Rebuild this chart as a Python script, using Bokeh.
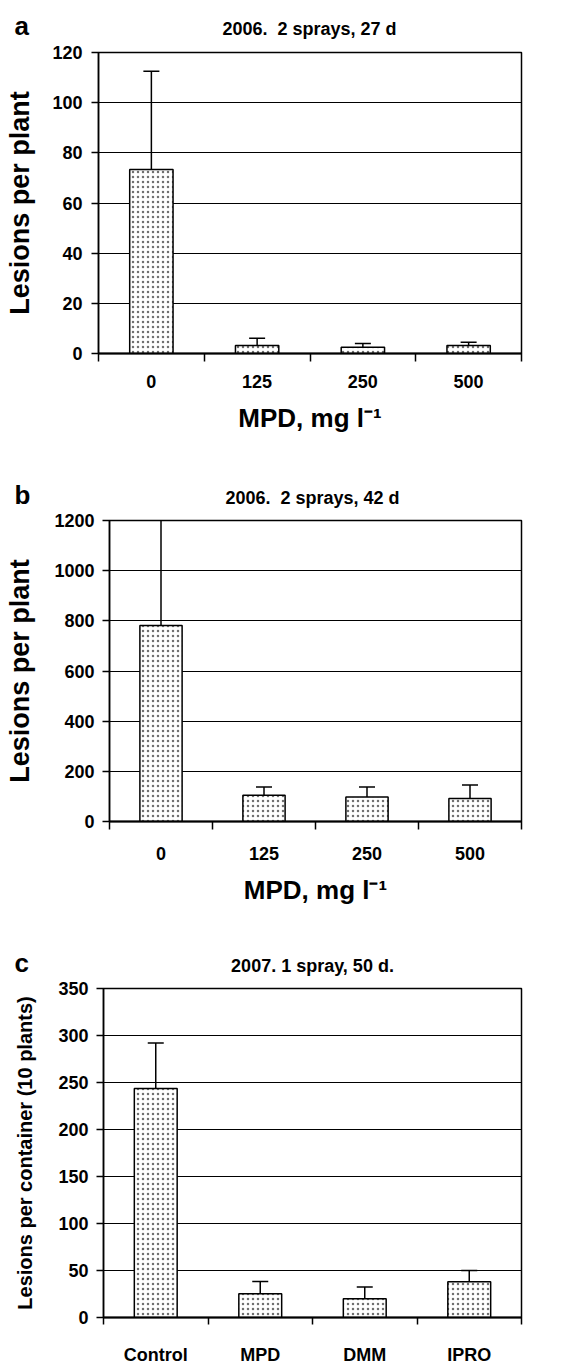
from bokeh.plotting import figure
from bokeh.models import ColumnDataSource, FixedTicker, Whisker, TeeHead, Range1d
from bokeh.core.properties import value
from bokeh.layouts import column
from bokeh.embed import file_html
from bokeh.resources import INLINE

FONT = "Liberation Sans"

# ---------------- data ----------------
a_categories = ["0", "125", "250", "500"]
a_means = [73.4, 3.2, 2.5, 3.2]
a_sd = [39.1, 2.9, 1.5, 1.3]
a_yticks = [0, 20, 40, 60, 80, 100, 120]
a_title = "2006.\u00a0\u00a02 sprays, 27 d"

b_categories = ["0", "125", "250", "500"]
b_means = [781, 105, 98, 92]
b_sd = [424, 33, 40, 54]
b_yticks = [0, 200, 400, 600, 800, 1000, 1200]
b_title = "2006.\u00a0\u00a02 sprays, 42 d"

c_categories = ["Control", "MPD", "DMM", "IPRO"]
c_means = [243.6, 25.2, 20.0, 37.9]
c_sd = [48.4, 13.0, 12.4, 12.1]
c_yticks = [0, 50, 100, 150, 200, 250, 300, 350]
c_title = "2007. 1 spray, 50 d."

ylabel_ab = "Lesions per plant"
ylabel_c = "Lesions per container (10 plants)"
xlabel_ab = "MPD, mg l\u207b\u00b9"

W = 582


def make_header(h, letter, lx, lby, title, tx, tby):
    p = figure(width=W, height=h, x_range=Range1d(0, W), y_range=Range1d(h, 0),
               output_backend="svg", toolbar_location=None, title=None,
               x_axis_location=None, y_axis_location=None,
               min_border_left=0, min_border_right=0, min_border_top=0, min_border_bottom=0,
               frame_align=False)
    p.outline_line_color = None
    p.grid.visible = False
    p.background_fill_color = "white"
    p.border_fill_color = "white"
    p.text(x=[lx], y=[lby], text=[letter], text_font=value(FONT), text_font_style="bold",
           text_font_size="26px", text_align="left", text_baseline="alphabetic",
           text_color="black")
    p.text(x=[tx], y=[tby], text=[title], text_font=value(FONT), text_font_style="bold",
           text_font_size="18px", text_align="center", text_baseline="alphabetic",
           text_color="black")
    return p


def make_panel(cats, means, sd, yticks, ylabel, xlabel, g):
    n = len(cats)
    xs = list(range(n))
    src = ColumnDataSource(dict(
        x=xs, top=means, lower=means,
        upper=[m + s for m, s in zip(means, sd)],
    ))
    p = figure(width=W, height=g["h"],
               x_range=Range1d(-0.5, n - 0.5),
               y_range=Range1d(yticks[0], yticks[-1]),
               output_backend="svg", toolbar_location=None, title=None,
               min_border_left=g["bl"], min_border_right=g["br"],
               min_border_top=g["bt"], min_border_bottom=g["bb"],
               frame_align=False)
    p.background_fill_color = "white"
    p.border_fill_color = "white"
    p.outline_line_color = "black"
    p.outline_line_width = 1.5

    p.xgrid.visible = False
    p.ygrid.ticker = FixedTicker(ticks=yticks)
    p.ygrid.grid_line_color = "black"
    p.ygrid.grid_line_width = 1.2

    # y axis
    ya = p.yaxis[0]
    ya.ticker = FixedTicker(ticks=yticks)
    ya.major_tick_out = 7
    ya.major_tick_in = 0
    ya.minor_tick_out = 0
    ya.minor_tick_in = 0
    ya.axis_line_color = "black"
    ya.axis_line_width = 1.5
    ya.major_tick_line_color = "black"
    ya.major_tick_line_width = 1.5
    ya.major_label_text_font = FONT
    ya.major_label_text_font_style = "bold"
    ya.major_label_text_font_size = "18px"
    ya.major_label_text_color = "black"
    ya.major_label_standoff = g["ylstand"]
    ya.axis_label = ylabel
    ya.axis_label_text_font = FONT
    ya.axis_label_text_font_style = "bold"
    ya.axis_label_text_font_size = g["ylsize"]
    ya.axis_label_text_color = "black"
    ya.axis_label_standoff = g["yastand"]

    # x axis: labels at category centres, tick marks at category boundaries
    xa = p.xaxis[0]
    xa.ticker = FixedTicker(ticks=xs, minor_ticks=[i - 0.5 for i in range(n + 1)])
    xa.major_label_overrides = {i: c for i, c in zip(xs, cats)}
    xa.major_tick_out = 0
    xa.major_tick_in = 0
    xa.minor_tick_out = g["xtick"]
    xa.minor_tick_in = 0
    xa.minor_tick_line_color = "black"
    xa.minor_tick_line_width = 1.5
    xa.axis_line_color = "black"
    xa.axis_line_width = 2
    xa.major_label_text_font = FONT
    xa.major_label_text_font_style = "bold"
    xa.major_label_text_font_size = "18px"
    xa.major_label_text_color = "black"
    xa.major_label_standoff = g["xlstand"]
    if xlabel:
        xa.axis_label = xlabel
        xa.axis_label_text_font = FONT
        xa.axis_label_text_font_style = "bold"
        xa.axis_label_text_font_size = "26px"
        xa.axis_label_text_color = "black"
        xa.axis_label_standoff = g["xastand"]

    p.vbar(x="x", top="top", bottom=0, width=0.41, source=src,
           fill_color="white", line_color="black", line_width=1.5,
           hatch_pattern="dot", hatch_color="#707070", hatch_scale=5, hatch_weight=2)

    p.add_layout(Whisker(source=src, base="x", upper="upper", lower="lower",
                         line_color="black", line_width=1.5, level="overlay",
                         upper_head=TeeHead(size=16, line_color="black", line_width=1.5),
                         lower_head=None))
    return p


ga = dict(h=401, bl=98, br=61, bt=13, bb=87, ylstand=9, yastand=14, ylsize="27px",
          xtick=8, xlstand=13, xastand=12)
gb = dict(h=422, bl=109, br=61, bt=12, bb=109, ylstand=8, yastand=16, ylsize="27px",
          xtick=8, xlstand=17, xastand=12)
gc = dict(h=391, bl=103, br=61, bt=12, bb=40, ylstand=8, yastand=19, ylsize="20px",
          xtick=7, xlstand=20, xastand=0)

ha = make_header(39, "a", 14, 25, a_title, 309, 28)
pa = make_panel(a_categories, a_means, a_sd, a_yticks, ylabel_ab, xlabel_ab, ga)
hb = make_header(68, "b", 14, 54, b_title, 312, 57)
pb = make_panel(b_categories, b_means, b_sd, b_yticks, ylabel_ab, xlabel_ab, gb)
hc = make_header(46, "c", 14, 32, c_title, 312, 35)
pc = make_panel(c_categories, c_means, c_sd, c_yticks, ylabel_c, None, gc)

layout = column(ha, pa, hb, pb, hc, pc, spacing=0)
open("out.html", "w").write(file_html(layout, INLINE))
